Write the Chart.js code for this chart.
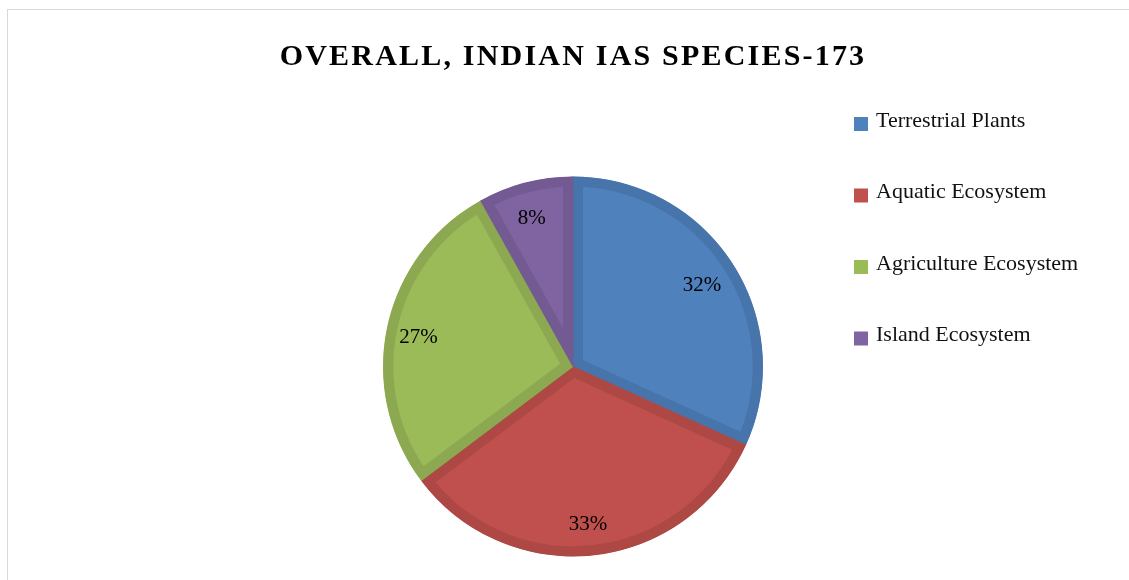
<!DOCTYPE html>
<html>
<head>
<meta charset="utf-8">
<script src="https://cdn.jsdelivr.net/npm/chart.js@4.4.1/dist/chart.umd.min.js"></script>
<style>
    html, body { margin: 0; padding: 0; background: #fff; }
    #wrap { position: relative; width: 1129px; height: 580px; }
    #frame { position: absolute; left: 7px; top: 9px; right: -2px; bottom: -2px; border-top: 1px solid #d9d9d9; border-left: 1px solid #d9d9d9; }
    canvas { position: absolute; left: 0; top: 0; }
</style>
</head>
<body>
<div id="wrap">
    <div id="frame"></div>
    <canvas id="pieChart" width="1129" height="580"></canvas>
</div>
<script>
const titleText = 'OVERALL, INDIAN IAS SPECIES-173';
const categories = ['Terrestrial Plants', 'Aquatic Ecosystem', 'Agriculture Ecosystem', 'Island Ecosystem'];
const speciesCounts = [55, 57, 47, 14];
const fillColors = ['#4f81bd', '#c0504d', '#9bbb59', '#8064a2'];
const edgeColors = ['#4774aa', '#ad4845', '#8ca951', '#735a92'];

const serif = '"Liberation Serif", "DejaVu Serif", serif';

// percent labels near the outer edge of each slice
const sliceLabels = {
    id: 'sliceLabels',
    afterDatasetsDraw(chart) {
        const ctx = chart.ctx;
        const meta = chart.getDatasetMeta(0);
        const total = speciesCounts.reduce((a, b) => a + b, 0);
        ctx.save();
        ctx.font = '21px ' + serif;
        ctx.fillStyle = '#000';
        ctx.textAlign = 'center';
        ctx.textBaseline = 'middle';
        meta.data.forEach((arc, i) => {
            const mid = (arc.startAngle + arc.endAngle) / 2;
            const r = arc.outerRadius * 0.82;
            const pct = Math.round(speciesCounts[i] / total * 100) + '%';
            ctx.fillText(pct, arc.x + Math.cos(mid) * r - 2, arc.y + Math.sin(mid) * r + 3);
        });
        ctx.restore();
    }
};

// spaced-out title and the legend on the right
const decorations = {
    id: 'decorations',
    afterDraw(chart) {
        const ctx = chart.ctx;
        ctx.save();
        ctx.font = 'bold 30px ' + serif;
        ctx.letterSpacing = '2.2px';
        ctx.fillStyle = '#000';
        ctx.textAlign = 'center';
        ctx.textBaseline = 'alphabetic';
        ctx.fillText(titleText, 573, 65);

        ctx.letterSpacing = '0px';
        ctx.font = '22px ' + serif;
        ctx.textAlign = 'left';
        ctx.textBaseline = 'middle';
        categories.forEach((name, i) => {
            const y = 124 + i * 71.5;
            ctx.fillStyle = fillColors[i];
            ctx.fillRect(854, y - 7, 14, 14);
            ctx.fillStyle = '#111';
            ctx.fillText(name, 876, y - 3);
        });
        ctx.restore();
    }
};

const ctx = document.getElementById('pieChart').getContext('2d');
const chart = new Chart(ctx, {
    type: 'pie',
    data: {
        labels: categories,
        datasets: [{
            data: speciesCounts,
            backgroundColor: fillColors,
            borderColor: edgeColors,
            borderWidth: 10,
            borderAlign: 'inner'
        }]
    },
    options: {
        responsive: false,
        animation: false,
        layout: {
            padding: { top: 176, bottom: 23, left: 383, right: 366 }
        },
        plugins: {
            legend: { display: false },
            title: { display: false },
            tooltip: { enabled: false }
        }
    },
    plugins: [sliceLabels, decorations]
});
</script>
</body>
</html>
